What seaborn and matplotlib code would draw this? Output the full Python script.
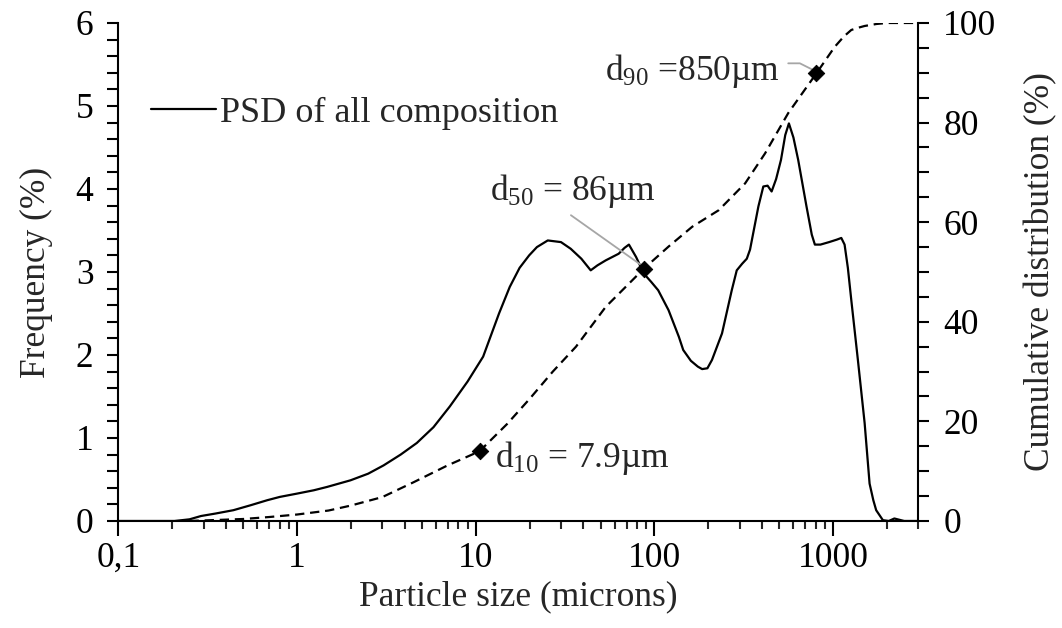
import matplotlib
matplotlib.use("Agg")
import matplotlib.pyplot as plt
import seaborn as sns
import numpy as np
from matplotlib.ticker import FixedLocator, FixedFormatter, LogLocator, NullFormatter, MultipleLocator

# ---------------- data ----------------
size_freq = [0.1, 0.15, 0.206, 0.25, 0.29, 0.35, 0.44, 0.55, 0.68, 0.8, 1.0, 1.24, 1.47, 1.99,
             2.5, 3.05, 3.8, 4.68, 5.8, 7.16, 9.0, 11.0, 13.5, 15.5, 17.6, 19.9, 22, 25.3,
             30, 34, 39, 44, 48, 53.4, 63.1, 68, 72, 79, 87.3, 96, 105, 120, 137, 145, 160,
             175, 185, 198, 210, 239, 271, 289, 310, 329, 343, 382, 407, 430, 453, 480,
             511, 540, 566, 600, 638, 710, 760, 791, 850, 950, 1050, 1112, 1160, 1210,
             1265, 1377, 1502, 1601, 1680, 1743, 1900, 2050, 2203, 2500, 3000]
freq = [0, 0, 0, 0.02, 0.06, 0.09, 0.13, 0.19, 0.25, 0.29, 0.33, 0.37, 0.41, 0.49,
        0.57, 0.67, 0.80, 0.94, 1.13, 1.38, 1.68, 1.98, 2.5, 2.82, 3.05, 3.2, 3.3, 3.38,
        3.36, 3.28, 3.16, 3.02, 3.08, 3.14, 3.22, 3.29, 3.33, 3.18, 2.98, 2.88, 2.78, 2.54,
        2.22, 2.06, 1.93, 1.86, 1.83, 1.84, 1.94, 2.26, 2.78, 3.02, 3.1, 3.16, 3.27,
        3.79, 4.03, 4.04, 3.97, 4.12, 4.35, 4.65, 4.79, 4.62, 4.35, 3.79, 3.45, 3.33,
        3.33, 3.36, 3.39, 3.41, 3.33, 3.05, 2.66, 1.94, 1.18, 0.45, 0.25, 0.13, 0.01,
        0.0, 0.03, 0.0, 0.0]

size_cum = [0.25, 0.5, 0.7, 1.0, 1.5, 2.0, 3.0, 4.5, 6.9, 10.5, 15, 20, 27, 36.4, 53.4,
            87.5, 120, 163, 229, 322, 416, 561, 807, 1021, 1150, 1265, 1400, 1502, 1750,
            2000, 3000]
cum = [0, 0.4, 0.8, 1.3, 2.1, 3.1, 4.8, 7.8, 11.1, 14.0, 19.5, 24.5, 30, 35, 43,
       50.7, 55.1, 59.1, 62.4, 67.8, 73.8, 81.9, 89.9, 95.2, 97.3, 98.6, 99.1, 99.4, 99.8,
       100, 100]

d_size = [10.5, 87.5, 807]
d_cum = [14.0, 50.7, 89.9]
d_labels = [r"d$_{10}$ = 7.9µm", r"d$_{50}$ = 86µm", r"d$_{90}$ =850µm"]
d_label_x = [12.9, 12.0, 53.0]
d_label_y = [12.7, 66.3, 90.4]
lead50_x = [34.1, 85.0]
lead50_y = [61.4, 51.3]
lead90_x = [561, 652, 800]
lead90_y = [91.9, 91.9, 90.3]

x_ticks = [0.1, 1, 10, 100, 1000]
x_ticklabels = ["0,1", "1", "10", "100", "1000"]

# ---------------- style ----------------
sns.set_theme(style="white")
plt.rcParams["font.family"] = ["Liberation Serif", "DejaVu Serif"]
plt.rcParams["mathtext.fontset"] = "custom"
plt.rcParams["mathtext.rm"] = "Liberation Serif"
plt.rcParams["mathtext.it"] = "Liberation Serif:italic"
plt.rcParams["axes.linewidth"] = 1.5

FS = 25.5
fig = plt.figure(figsize=(10.62, 6.28), dpi=100)
ax = fig.add_axes([0.1115, 0.1704, 0.7532, 0.7930])
ax2 = ax.twinx()

sns.lineplot(x=size_freq, y=freq, ax=ax, color="black", linewidth=1.6,
             label="PSD of all composition", sort=False, estimator=None)
sns.lineplot(x=size_cum, y=cum, ax=ax2, color="black", linewidth=1.6,
             linestyle=(0, (4.2, 2.6)), sort=False, estimator=None)
ax2.plot(lead50_x, lead50_y, color="#A6A6A6", lw=1.3, zorder=3)
ax2.plot(lead90_x, lead90_y, color="#A6A6A6", lw=1.3, zorder=3)
sns.scatterplot(x=d_size, y=d_cum, ax=ax2, marker="D", s=70, color="black",
                edgecolor="black", zorder=5)
for xl, yl, t in zip(d_label_x, d_label_y, d_labels):
    ax2.text(xl, yl, t, fontsize=FS, va="center", ha="left")

ax.set_xscale("log")
ax.set_xlim(0.1, 3000)
ax.set_ylim(0, 6)
ax2.set_ylim(0, 100)

ax.xaxis.set_major_locator(FixedLocator(x_ticks))
ax.xaxis.set_major_formatter(FixedFormatter(x_ticklabels))
ax.xaxis.set_minor_locator(LogLocator(base=10, subs=np.arange(2, 10)))
ax.xaxis.set_minor_formatter(NullFormatter())
ax.yaxis.set_major_locator(MultipleLocator(1))
ax.yaxis.set_minor_locator(MultipleLocator(0.2))
ax2.yaxis.set_major_locator(MultipleLocator(20))
ax2.yaxis.set_minor_locator(MultipleLocator(5))

for a in (ax, ax2):
    a.spines["top"].set_visible(False)
    a.grid(False)
ax.spines["right"].set_visible(False)
for s in ["left", "bottom"]:
    ax.spines[s].set_color("black")
ax2.spines["right"].set_color("black")
ax2.spines["left"].set_visible(False)
ax2.spines["bottom"].set_visible(False)

ax.tick_params(axis="x", which="major", direction="out", length=11, width=1.5,
               labelsize=FS, pad=4, colors="black", bottom=True)
ax.tick_params(axis="x", which="minor", direction="out", length=6, width=1.5, bottom=True)
ax.tick_params(axis="y", which="both", direction="out", length=8, width=1.5,
               labelsize=FS, pad=10, left=True, colors="black")
ax2.tick_params(axis="y", which="both", direction="out", length=8, width=1.5,
                labelsize=FS, pad=10, right=True, colors="black")

ax.set_xlabel("Particle size (microns)", fontsize=FS, labelpad=4)
ax.set_ylabel("Frequency (%)", fontsize=FS, labelpad=16)
ax2.set_ylabel("Cumulative distribution (%)", fontsize=FS, labelpad=20)

ax.legend(loc="center left", bbox_to_anchor=(0.041, 0.819), frameon=False,
          fontsize=26, handlelength=1.8, handletextpad=0.1, borderpad=0,
          borderaxespad=0)

fig.savefig("out.png", dpi=100)
